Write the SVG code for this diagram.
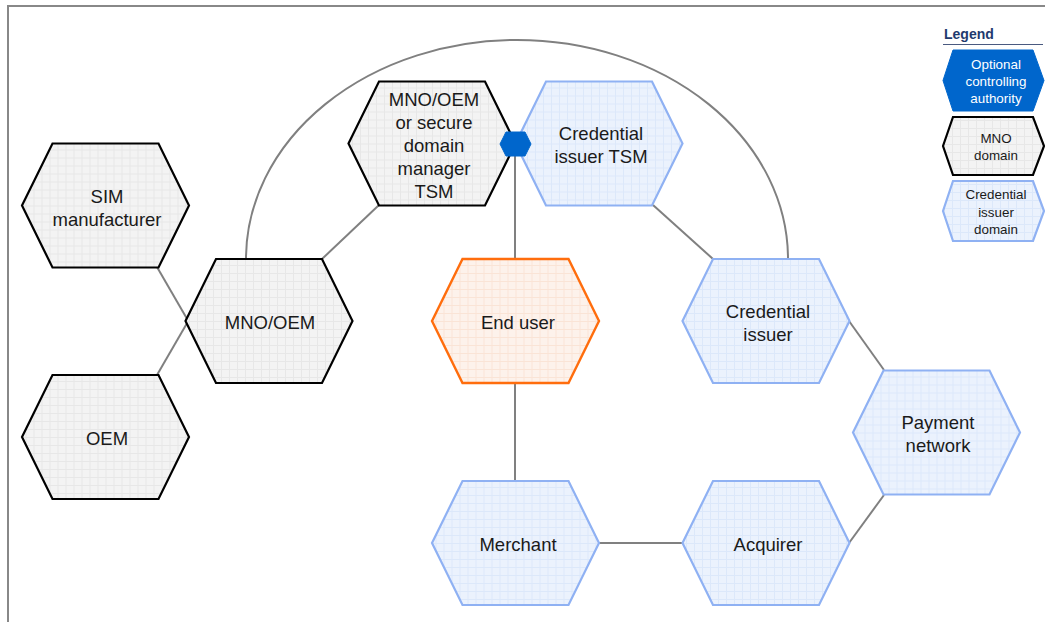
<svg xmlns="http://www.w3.org/2000/svg" width="1045" height="622" viewBox="0 0 1045 622">
<style>
text{font-family:"Liberation Sans",Arial,sans-serif;text-anchor:middle;fill:#1a1a1a}
.t{font-size:18.5px}
.lg{font-size:13.4px}
.conn{stroke:#808080;stroke-width:2;fill:none}
.mno{fill:url(#pg);stroke:#000;stroke-width:2.2}
.cred{fill:url(#pb);stroke:#8fb1f3;stroke-width:2.2}
.user{fill:url(#po);stroke:#ff6d0d;stroke-width:2.4}
.auth{fill:#0066cc;stroke:#0066cc;stroke-width:1}
</style>
<defs>
<pattern id="pg" width="8" height="8" patternUnits="userSpaceOnUse">
<rect width="8" height="8" fill="#f3f3f3"/>
<path d="M0 0.5H8M0.5 0V8" stroke="#e7e7e7" stroke-width="1"/>
</pattern>
<pattern id="pb" width="8" height="8" patternUnits="userSpaceOnUse">
<rect width="8" height="8" fill="#ebf2fd"/>
<path d="M0 0.5H8M0.5 0V8" stroke="#dce8fa" stroke-width="1"/>
</pattern>
<pattern id="po" width="8" height="8" patternUnits="userSpaceOnUse">
<rect width="8" height="8" fill="#fdf2eb"/>
<path d="M0 0.5H8M0.5 0V8" stroke="#fae4d6" stroke-width="1"/>
</pattern>
<polygon id="hex" points="-83.5,0 -53,-62 53,-62 83.5,0 53,62 -53,62"/>
</defs>
<g id="frame">
<path d="M8 622V6H1045" fill="none" stroke="#888" stroke-width="2"/>
</g>
<g id="connectors">
<path class="conn" d="M246 259A271 219 0 0 1 788 259"/>
<line class="conn" x1="157" y1="267" x2="190" y2="324"/>
<line class="conn" x1="157" y1="375" x2="190" y2="318"/>
<line class="conn" x1="322" y1="259" x2="379" y2="205"/>
<line class="conn" x1="515" y1="144" x2="515" y2="259"/>
<line class="conn" x1="653" y1="205" x2="713" y2="259"/>
<line class="conn" x1="849" y1="321" x2="884" y2="370"/>
<line class="conn" x1="884" y1="495" x2="849" y2="543"/>
<line class="conn" x1="599" y1="543" x2="683" y2="543"/>
<line class="conn" x1="515" y1="383" x2="515" y2="481"/>
</g>
<g id="sim-manufacturer">
<use href="#hex" class="mno" x="105.5" y="205.5"/>
<text class="t" x="107" y="202.5">SIM</text>
<text class="t" x="107" y="225.5">manufacturer</text>
</g>
<g id="oem">
<use href="#hex" class="mno" x="105.5" y="437"/>
<text class="t" x="107" y="445">OEM</text>
</g>
<g id="mno-oem">
<use href="#hex" class="mno" x="269" y="321"/>
<text class="t" x="270" y="329">MNO/OEM</text>
</g>
<g id="credential-issuer-tsm">
<use href="#hex" class="cred" x="599" y="143.5"/>
<text class="t" x="601" y="140">Credential</text>
<text class="t" x="601" y="163">issuer TSM</text>
</g>
<g id="mno-tsm">
<use href="#hex" class="mno" x="432" y="143.5"/>
<text class="t" x="434" y="106">MNO/OEM</text>
<text class="t" x="434" y="129">or secure</text>
<text class="t" x="434" y="152">domain</text>
<text class="t" x="434" y="175">manager</text>
<text class="t" x="434" y="198">TSM</text>
</g>
<g id="controlling-authority">
<polygon class="auth" points="500,144 506,132 525,132 531,144 525,156 506,156"/>
</g>
<g id="end-user">
<use href="#hex" class="user" x="515.5" y="321"/>
<text class="t" x="518" y="329">End user</text>
</g>
<g id="credential-issuer">
<use href="#hex" class="cred" x="766" y="321"/>
<text class="t" x="768" y="318">Credential</text>
<text class="t" x="768" y="341">issuer</text>
</g>
<g id="payment-network">
<use href="#hex" class="cred" x="936.5" y="432.5"/>
<text class="t" x="938" y="429">Payment</text>
<text class="t" x="938" y="452">network</text>
</g>
<g id="merchant">
<use href="#hex" class="cred" x="515.5" y="543"/>
<text class="t" x="518" y="551">Merchant</text>
</g>
<g id="acquirer">
<use href="#hex" class="cred" x="766" y="543"/>
<text class="t" x="768" y="551">Acquirer</text>
</g>
<g id="legend">
<text x="944" y="39" style="font-size:14px;font-weight:bold;fill:#1f3a6e;text-anchor:start">Legend</text>
<line x1="943" y1="44.5" x2="1043" y2="44.5" stroke="#4a5a80" stroke-width="1"/>
<polygon class="auth" points="943,80.5 953,50 1033,50 1044,80.5 1033,111 953,111"/>
<text class="lg" x="996" y="69" style="fill:#fff">Optional</text>
<text class="lg" x="996" y="86" style="fill:#fff">controlling</text>
<text class="lg" x="996" y="103" style="fill:#fff">authority</text>
<polygon class="mno" points="943,146 953,117 1033,117 1044,146 1033,175 953,175"/>
<text class="lg" x="996" y="143">MNO</text>
<text class="lg" x="996" y="160">domain</text>
<polygon class="cred" points="943,211 953,181 1033,181 1044,211 1033,241 953,241"/>
<text class="lg" x="996" y="199">Credential</text>
<text class="lg" x="996" y="217">issuer</text>
<text class="lg" x="996" y="234">domain</text>
</g>
</svg>
